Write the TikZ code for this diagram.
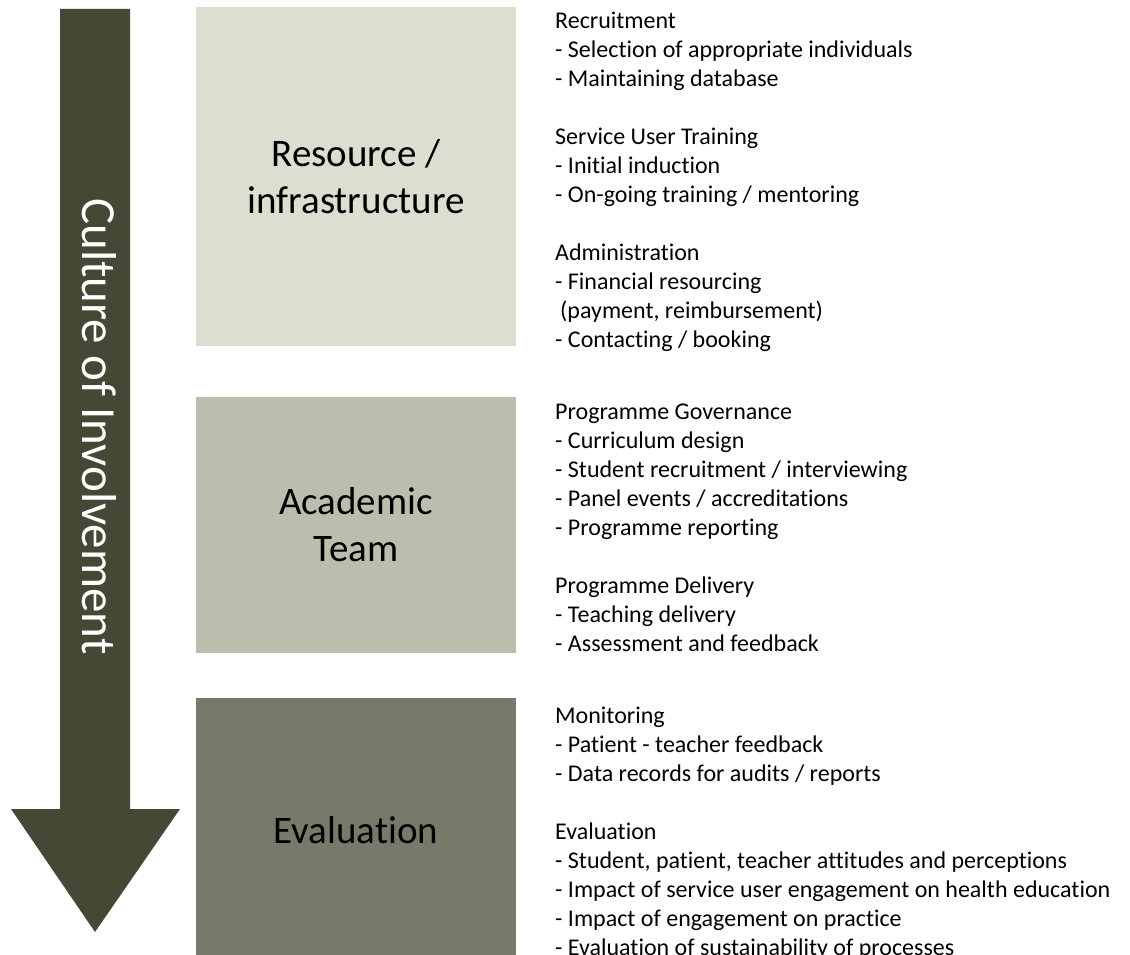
\documentclass[tikz,border=0pt]{standalone}
\usepackage{fontspec}
\setmainfont{Carlito}[Ligatures=NoCommon]
\definecolor{boxA}{HTML}{DDDDD0}
\definecolor{boxB}{HTML}{BCBDAD}
\definecolor{boxC}{HTML}{79796A}
\definecolor{arrowc}{HTML}{464735}
\newcommand{\listfont}{\fontsize{24}{29}\selectfont}
\begin{document}
\begin{tikzpicture}[x=1pt,y=-1pt,
  stage/.style={fill=#1, draw=none, inner sep=0pt, minimum width=320pt, align=center, font=\fontsize{39}{47}\selectfont},
  listtext/.style={anchor=base west, inner sep=0pt}]
\useasboundingbox (0,0) rectangle (1130,955);
\fill[white] (0,0) rectangle (1130,955);
% big arrow
\fill[arrowc] (60,9) -- (130,9) -- (130,809) -- (180,809) -- (95,932) -- (11,809) -- (60,809) -- cycle;
\node[rotate=-90, anchor=base west, inner sep=0pt, text=white, font=\fontsize{49}{59}\selectfont] (culture) at (82,198) {Culture of Involvement};
% stage boxes
\node[stage=boxA, minimum height=339pt] (res) at (356,176.5) {Resource /\\infrastructure};
\node[stage=boxB, minimum height=256pt] (acad) at (356,525) {Academic\\Team};
\node[stage=boxC, minimum height=264pt] (eval) at (356,830) {Evaluation};
% lists
\node[listtext] (l1) at (555,29) {\parbox[t]{580pt}{\listfont Recruitment\\
- Selection of appropriate individuals\\
- Maintaining database\\[29pt]
Service User Training\\
- Initial induction\\
- On-going training / mentoring\\[29pt]
Administration\\
- Financial resourcing\\
\hspace*{5pt}(payment, reimbursement)\\
- Contacting / booking}};
\node[listtext] (l2) at (555,419) {\parbox[t]{580pt}{\listfont Programme Governance\\
- Curriculum design\\
- Student recruitment / interviewing\\
- Panel events / accreditations\\
- Programme reporting\\[29pt]
Programme Delivery\\
- Teaching delivery\\
- Assessment and feedback}};
\node[listtext] (l3) at (555,723) {\parbox[t]{580pt}{\listfont Monitoring\\
- Patient - teacher feedback\\
- Data records for audits / reports\\[29pt]
Evaluation\\
- Student, patient, teacher attitudes and perceptions\\
- Impact of service user engagement on health education\\
- Impact of engagement on practice\\
- Evaluation of sustainability of processes}};
\end{tikzpicture}
\end{document}
